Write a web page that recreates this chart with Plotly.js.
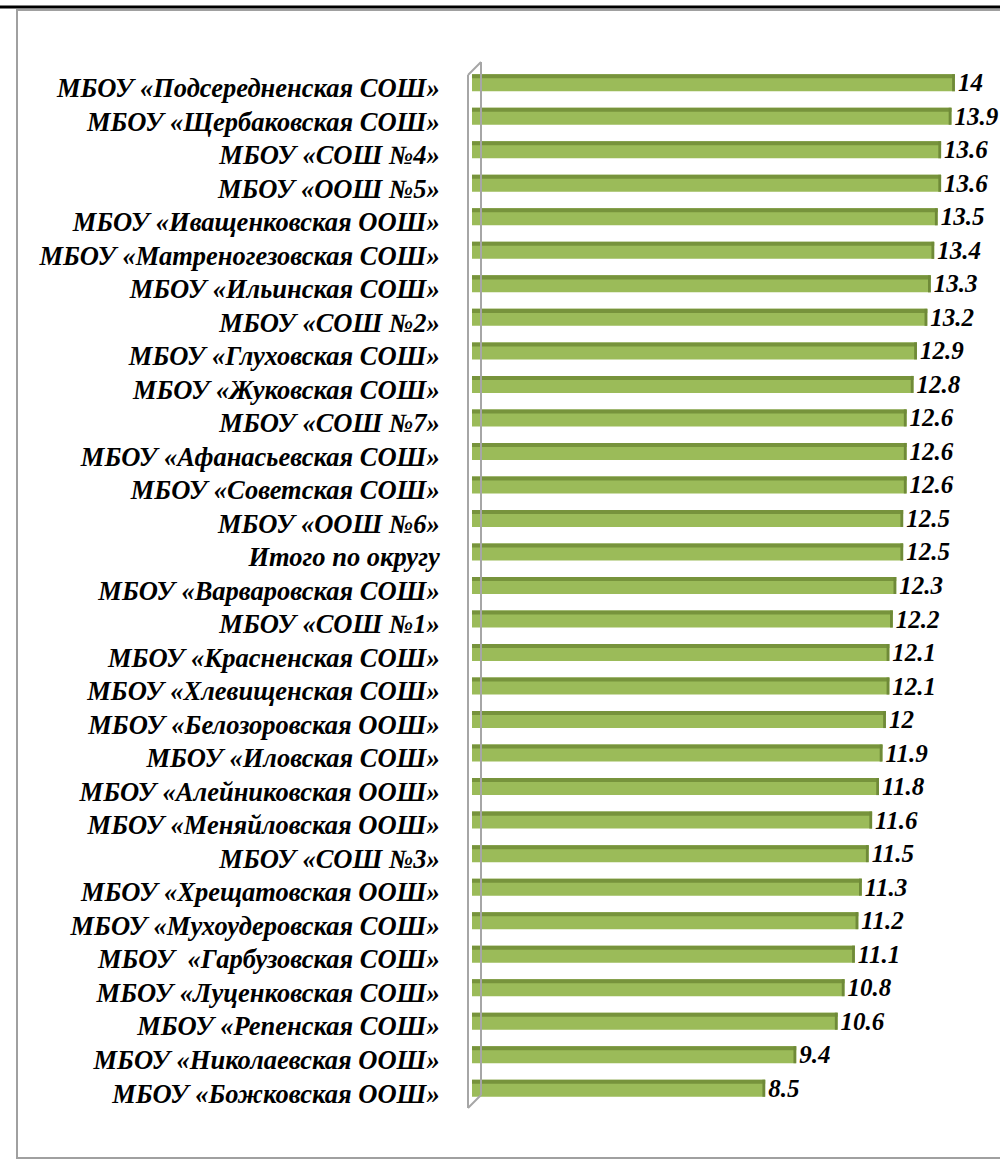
<!DOCTYPE html>
<html>
<head>
<meta charset="utf-8">
<script src="https://cdn.plot.ly/plotly-3.0.1.min.js"></script>
<style>html,body{margin:0;padding:0;background:#fff;}#chart{width:1000px;height:1161px;}</style>
</head>
<body>
<div id="chart"></div>
<script>
const schools = [
  "МБОУ «Подсередненская СОШ»",
  "МБОУ «Щербаковская СОШ»",
  "МБОУ «СОШ №4»",
  "МБОУ «ООШ №5»",
  "МБОУ «Иващенковская ООШ»",
  "МБОУ «Матреногезовская СОШ»",
  "МБОУ «Ильинская СОШ»",
  "МБОУ «СОШ №2»",
  "МБОУ «Глуховская СОШ»",
  "МБОУ «Жуковская СОШ»",
  "МБОУ «СОШ №7»",
  "МБОУ «Афанасьевская СОШ»",
  "МБОУ «Советская СОШ»",
  "МБОУ «ООШ №6»",
  "Итого по округу",
  "МБОУ «Варваровская СОШ»",
  "МБОУ «СОШ №1»",
  "МБОУ «Красненская СОШ»",
  "МБОУ «Хлевищенская СОШ»",
  "МБОУ «Белозоровская ООШ»",
  "МБОУ «Иловская СОШ»",
  "МБОУ «Алейниковская ООШ»",
  "МБОУ «Меняйловская ООШ»",
  "МБОУ «СОШ №3»",
  "МБОУ «Хрещатовская ООШ»",
  "МБОУ «Мухоудеровская СОШ»",
  "МБОУ  «Гарбузовская СОШ»",
  "МБОУ «Луценковская СОШ»",
  "МБОУ «Репенская СОШ»",
  "МБОУ «Николаевская ООШ»",
  "МБОУ «Божковская ООШ»"
];
const values = [14, 13.9, 13.6, 13.6, 13.5, 13.4, 13.3, 13.2, 12.9, 12.8, 12.6, 12.6, 12.6, 12.5, 12.5,
  12.3, 12.2, 12.1, 12.1, 12, 11.9, 11.8, 11.6, 11.5, 11.3, 11.2, 11.1, 10.8, 10.6, 9.4, 8.5];

const W = 1000, H = 1161;
const M = {l: 472, r: 2, t: 66, b: 56};
const PW = W - M.l - M.r, PH = H - M.t - M.b;
const px = v => (v - M.l) / PW;
const py = v => 1 - (v - M.t) / PH;

const fam = "'Liberation Serif', 'DejaVu Serif', serif";
const tickFont = {family: fam, size: 26.5, color: "#000", weight: "bold", style: "italic"};
const valFont = {family: fam, size: 25, color: "#000", weight: "bold", style: "italic"};

const capW = 0.08;
const traces = [
  {
    type: "bar", orientation: "h", y: schools, x: values, width: 0.507,
    marker: {color: "#9BBB59", line: {width: 0}},
    texttemplate: "<b><i>%{x}</i></b>", textposition: "outside", textfont: valFont,
    constraintext: "none", cliponaxis: false,
    hoverinfo: "x+y"
  },
  {
    type: "bar", orientation: "h", y: schools, x: values, width: 0.12, offset: -0.2535,
    marker: {color: "#77933C", line: {width: 0}}, hoverinfo: "skip"
  },
  {
    type: "bar", orientation: "h", y: schools, x: values.map(() => capW), base: values.map(v => v - capW),
    width: 0.507, marker: {color: "#6F8A38", line: {width: 0}}, hoverinfo: "skip"
  }
];

const grey = "#A6A6A6";
const shapes = [
  {type: "rect", xref: "paper", yref: "paper", x0: px(17), x1: px(1003), y0: py(10), y1: py(1158),
   line: {color: "#A0A0A0", width: 2}, fillcolor: "rgba(0,0,0,0)", layer: "below"},
  {type: "line", xref: "paper", yref: "paper", x0: px(-5), x1: px(1005), y0: py(7), y1: py(7),
   line: {color: "#000", width: 3}},
  {type: "line", xref: "paper", yref: "paper", x0: px(468), x1: px(468), y0: py(75), y1: py(1108), line: {color: grey, width: 2}},
  {type: "line", xref: "paper", yref: "paper", x0: px(481), x1: px(481), y0: py(62), y1: py(1095), line: {color: grey, width: 2}},
  {type: "line", xref: "paper", yref: "paper", x0: px(468), x1: px(481), y0: py(75), y1: py(62), line: {color: grey, width: 2}},
  {type: "line", xref: "paper", yref: "paper", x0: px(468), x1: px(481), y0: py(1108), y1: py(1095), line: {color: grey, width: 2}}
];

const layout = {
  width: W, height: H,
  margin: M,
  paper_bgcolor: "#fff", plot_bgcolor: "rgba(0,0,0,0)",
  barmode: "overlay",
  showlegend: false,
  xaxis: {range: [0, 15.25], visible: false, showgrid: false, zeroline: false},
  yaxis: {
    type: "category", range: [30.5, -0.5], showgrid: false, zeroline: false, showline: false,
    tickmode: "array", tickvals: schools, ticktext: schools.map(s => "<b><i>" + s + "</i></b>"),
    ticks: "outside", ticklen: 26, tickcolor: "rgba(0,0,0,0)",
    tickfont: tickFont, automargin: false, ticklabelshift: -5
  },
  shapes: shapes
};

Plotly.newPlot("chart", traces, layout, {staticPlot: true, displayModeBar: false});
</script>
</body>
</html>
